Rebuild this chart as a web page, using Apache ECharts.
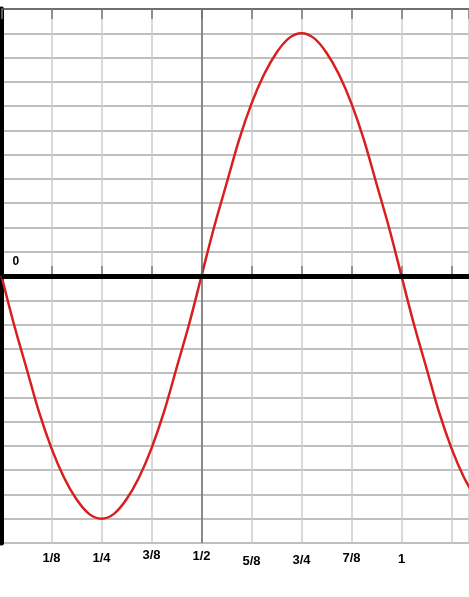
<!DOCTYPE html>
<html>
<head>
<meta charset="utf-8">
<script src="https://cdn.jsdelivr.net/npm/echarts@6/dist/echarts.min.js"></script>
<style>
html, body { margin: 0; padding: 0; background: #fff; }
#chart { width: 469px; height: 597px; }
</style>
</head>
<body>
<div id="chart"></div>
<script>
// x positions, in steps of 1/32
let xs = [0, 0.03125, 0.0625, 0.09375, 0.125, 0.15625, 0.1875, 0.21875, 0.25,
	0.28125, 0.3125, 0.34375, 0.375, 0.40625, 0.4375, 0.46875, 0.5,
	0.53125, 0.5625, 0.59375, 0.625, 0.65625, 0.6875, 0.71875, 0.75,
	0.78125, 0.8125, 0.84375, 0.875, 0.90625, 0.9375, 0.96875, 1,
	1.03125, 1.0625, 1.09375, 1.125, 1.15625, 1.1875];
// curve heights (one grid row = 1)
let ys = [0, -2, -3.8, -5.6, -7.1, -8.3, -9.2, -9.8, -10,
	-9.8, -9.2, -8.3, -7.1, -5.6, -3.8, -2, 0,
	2, 3.8, 5.6, 7.1, 8.3, 9.2, 9.8, 10,
	9.8, 9.2, 8.3, 7.1, 5.6, 3.8, 2, 0,
	-2, -3.8, -5.6, -7.1, -8.3, -9.2];
// tick labels on the bottom axis
let tickVals = [0.125, 0.25, 0.375, 0.5, 0.625, 0.75, 0.875, 1];
let tickNames = ["1/8", "1/4", "3/8", "1/2", "5/8", "3/4", "7/8", "1"];

let xMax = 1.16875;

// the labels in the picture sit a little uneven, nudge them down a few px
let labelDrop = [3, 3, 0, 1, 6, 5, 3, 4];
let richStyles = {};
for (let i = 0; i < labelDrop.length; i++) {
	richStyles["d" + i] = {
		color: "#000",
		fontWeight: "bold",
		fontSize: 13,
		fontFamily: "Liberation Sans",
		padding: [labelDrop[i], 0, 0, 0]
	};
}

let chart = echarts.init(document.getElementById("chart"));

let xAxisBase = {
	type: "value",
	min: 0,
	max: xMax,
	interval: 0.125,
	axisLine: { show: true, lineStyle: { color: "#555", width: 1.5 } },
	axisTick: { show: true, inside: true, length: 10, lineStyle: { color: "#777", width: 1.5 } }
};

let option = {
	animation: false,
	backgroundColor: "#fff",
	grid: { left: 1.5, right: 0, top: 9, bottom: 54 },
	xAxis: [
		Object.assign({}, xAxisBase, {
			position: "bottom",
			splitLine: { show: true, lineStyle: { color: "#cdcdcd", width: 1.5 } },
			axisLabel: {
				show: true,
				margin: 6,
				color: "#000",
				fontWeight: "bold",
				fontSize: 13,
				fontFamily: "Liberation Sans",
				showMinLabel: false,
				showMaxLabel: false,
				rich: richStyles,
				formatter: function(v) {
					for (let i = 0; i < tickVals.length; i++) {
						if (Math.abs(v - tickVals[i]) < 1e-6) {
							return "{d" + i + "|" + tickNames[i] + "}";
						}
					}
					return "";
				}
			}
		}),
		Object.assign({}, xAxisBase, {
			position: "top",
			splitLine: { show: false },
			axisLabel: { show: false }
		})
	],
	yAxis: {
		type: "value",
		min: -11,
		max: 11,
		interval: 1,
		axisLine: { show: true, onZero: false, lineStyle: { color: "#000", width: 5, cap: "round" } },
		axisTick: { show: false },
		splitLine: { show: true, lineStyle: { color: "#aaaaaa", width: 1.5 } },
		axisLabel: {
			show: true,
			inside: true,
			margin: 11,
			color: "#000",
			fontWeight: "bold",
			fontSize: 12,
			fontFamily: "Liberation Sans",
			verticalAlign: "bottom",
			padding: [0, 0, 8, 0],
			formatter: function(v) {
				return v === 0 ? "0" : "";
			}
		}
	},
	series: [{
		type: "line",
		xAxisIndex: 0,
		data: xs.map(function(x, i) { return [x, ys[i]]; }),
		smooth: 0.33,
		showSymbol: false,
		symbol: "none",
		clip: true,
		lineStyle: { color: "#d81e1e", width: 2.5 },
		z: 3,
		markLine: {
			silent: true,
			symbol: ["none", "none"],
			label: { show: false },
			animation: false,
			data: [
				{ xAxis: 0.5, lineStyle: { color: "#6f6f6f", width: 1.5, type: "solid" } },
				{ yAxis: 0, lineStyle: { color: "#000", width: 5, type: "solid" } }
			]
		}
	}]
};

chart.setOption(option);
</script>
</body>
</html>
